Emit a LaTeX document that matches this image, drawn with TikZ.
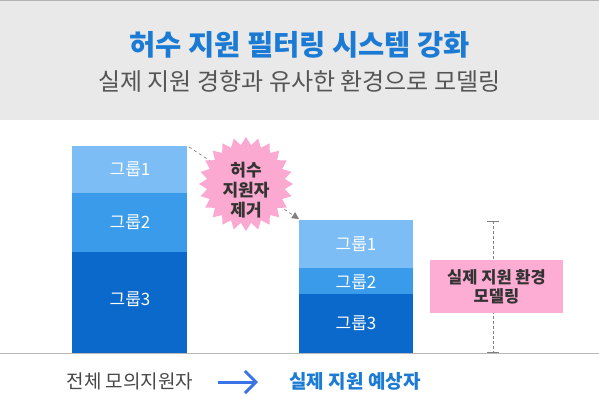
\documentclass[tikz,border=0pt]{standalone}
\usepackage{fontspec}
\setmainfont{Noto Sans CJK KR}
\usetikzlibrary{shapes.geometric,arrows.meta}
\definecolor{hdrbg}{HTML}{E9E9E9}
\definecolor{titleblue}{HTML}{1A7AD4}
\definecolor{subgray}{HTML}{555555}
\definecolor{gone}{HTML}{7CBDF6}
\definecolor{gtwo}{HTML}{3A9BEA}
\definecolor{gthree}{HTML}{0A69CB}
\definecolor{pinkc}{HTML}{FBA9D0}
\definecolor{pinkbox}{HTML}{FDADD4}
\definecolor{arrblue}{HTML}{3A74E6}
\definecolor{txtdark}{HTML}{333333}
\tikzset{
  seg/.style={draw=none,inner sep=0pt,text=white,font=\fontsize{17}{19}\selectfont},
  burst/.style={star,star points=24,star point ratio=1.2,fill=pinkc,draw=none,minimum size=94pt,inner sep=0pt},
  lbl/.style={font=\bfseries\fontsize{17}{20}\selectfont,text=txtdark,align=center}
}
\begin{document}
\begin{tikzpicture}[x=1pt,y=-1pt]
\useasboundingbox (0,0) rectangle (599,394);
% header
\fill[hdrbg] (0,0) rectangle (599,120);
\draw[gray!60,line width=1pt] (0,0.5) -- (599,0.5);
\node[font=\bfseries\fontsize{28.5}{30}\selectfont,text=titleblue] (title) at (299.5,45) {허수 지원 필터링 시스템 강화};
\node[font=\fontsize{24}{26}\selectfont,text=subgray] (sub) at (299.5,81) {실제 지원 경향과 유사한 환경으로 모델링};
% left bar
\fill[gone] (72,146) rectangle (187,193);
\fill[gtwo] (72,193) rectangle (187,252);
\fill[gthree] (72,252) rectangle (187,353);
\node[seg] (l1) at (130,169) {그룹1};
\node[seg] (l2) at (130,222) {그룹2};
\node[seg] (l3) at (130,299) {그룹3};
% right bar
\fill[gone] (299,220) rectangle (413,268);
\fill[gtwo] (299,268) rectangle (413,294);
\fill[gthree] (299,294) rectangle (413,353);
\node[seg] (r1) at (356,244) {그룹1};
\node[seg] (r2) at (356,282) {그룹2};
\node[seg] (r3) at (356,323) {그룹3};
% baseline
\draw[gray!55,line width=1pt] (0,353) -- (599,353);
% dashed connector
\coordinate (ltop) at (189,147);
\coordinate (rtop) at (299,219);
\draw[gray,dashed,line width=0.7pt,-{Triangle[length=7pt,width=7pt]}] (ltop) -- (rtop);
% burst
\node[burst] (bst) at (246,184) {};
\node[lbl] (bsttxt) at (246,190) {허수\\지원자\\제거};
% right measure
\coordinate (mtop) at (493,221);
\coordinate (mbot) at (493,352);
\draw[gray,densely dashed,line width=0.8pt] (mtop) -- (mbot);
\draw[gray,line width=0.8pt] (487,221) -- (499,221);
\draw[gray,line width=1pt] (487,352) -- (499,352);
\node[fill=pinkbox,minimum width=133pt,minimum height=53pt,inner sep=0pt,lbl,font=\bfseries\fontsize{16.5}{21}\selectfont] (mbox) at (496.5,286.5) {실제 지원 환경\\[-2pt]모델링};
% bottom
\node[font=\fontsize{19}{21}\selectfont,text=txtdark!90] (all) at (130,381) {전체 모의지원자};
\node[font=\bfseries\fontsize{19}{21}\selectfont,text=titleblue] (exp) at (355,381) {실제 지원 예상자};
\coordinate (a1) at (218,382);
\coordinate (a2) at (258,382);
\draw[arrblue,line width=3pt,-{Straight Barb[length=11pt,width=22pt,line width=3pt]}] (a1) -- (a2);
\end{tikzpicture}
\end{document}
